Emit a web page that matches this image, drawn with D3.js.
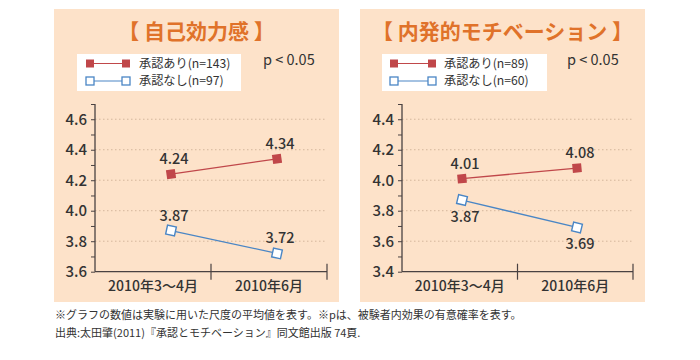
<!DOCTYPE html>
<html><head><meta charset="utf-8">
<script src="https://cdn.jsdelivr.net/npm/d3@7"></script>
<style>
body{margin:0;background:#fff;}
svg{display:block;font-family:"Noto Sans CJK JP","Noto Sans",sans-serif;}
</style></head>
<body><svg id="c" width="700" height="360"></svg>
<script>
// ---- data ----
const categories = ["2010年3～4月", "2010年6月"];
const panelTitles = ["【 自己効力感 】", "【 内発的モチベーション 】"];
const seriesNames = ["承認あり", "承認なし"];
const leftCounts = [143, 97];
const rightCounts = [89, 60];
const leftApproved = [4.24, 4.34];
const leftNotApproved = [3.87, 3.72];
const rightApproved = [4.01, 4.08];
const rightNotApproved = [3.87, 3.69];
const leftTicks = [3.6, 3.8, 4.0, 4.2, 4.4, 4.6];
const rightTicks = [3.4, 3.6, 3.8, 4.0, 4.2, 4.4];
const leftDomain = [3.6, 4.7];
const rightDomain = [3.4, 4.5];
const pText = "p < 0.05";
const notes = [
  "※グラフの数値は実験に用いた尺度の平均値を表す。※pは、被験者内効果の有意確率を表す。",
  "出典:太田肇(2011)『承認とモチベーション』同文館出版 74頁."
];

// ---- style ----
const RED = "#c0474a", BLUE = "#4a86c5", AXIS = "#4a4242", BG = "#fde2c9", TITLE = "#e0722a";
const svg = d3.select("#c");

const panels = [
  {x0: 54, x1: 339, ax0: 95, ax1: 327, pts: [171, 277], domain: leftDomain, ticks: leftTicks,
   title: panelTitles[0], counts: leftCounts, series: [leftApproved, leftNotApproved],
   labelDy: [-10, -10], legend: {x: 77, w: 164, mx0: 90, mx1: 126, tx: 139}, px: 263},
  {x0: 360, x1: 645, ax0: 402, ax1: 633, pts: [462, 577], domain: rightDomain, ticks: rightTicks,
   title: panelTitles[1], counts: rightCounts, series: [rightApproved, rightNotApproved],
   labelDy: [-10, 22], legend: {x: 382, w: 165, mx0: 394, mx1: 432, tx: 444}, px: 567}
];
const yTop = 104, yBot = 271.7;

panels.forEach(p => {
  const g = svg.append("g");
  g.append("rect").attr("x", p.x0).attr("y", 9).attr("width", p.x1 - p.x0).attr("height", 293).attr("fill", BG);
  g.append("text").attr("x", (p.x0 + p.x1) / 2).attr("y", 39).attr("text-anchor", "middle")
    .attr("font-size", 21).attr("font-weight", "bold").attr("fill", TITLE).text(p.title);

  // legend
  const L = p.legend;
  g.append("rect").attr("x", L.x).attr("y", 54).attr("width", L.w).attr("height", 37).attr("fill", "#fff");
  [0, 1].forEach(i => {
    const yy = i ? 81 : 63.5;
    const col = i ? BLUE : RED;
    g.append("line").attr("x1", L.mx0).attr("x2", L.mx1).attr("y1", yy).attr("y2", yy).attr("stroke", col).attr("stroke-width", 1.2);
    [L.mx0, L.mx1].forEach(mx => {
      g.append("rect").attr("x", mx - 4).attr("y", yy - 4).attr("width", 8).attr("height", 8)
        .attr("fill", i ? "#fff" : col).attr("stroke", col).attr("stroke-width", i ? 1.3 : 0);
    });
    g.append("text").attr("x", L.tx).attr("y", yy + 4.3).attr("font-size", 12.2).attr("fill", "#333")
      .text(`${seriesNames[i]}(n=${p.counts[i]})`);
  });
  g.append("text").attr("x", p.px).attr("y", 65).attr("font-size", 14.5).attr("fill", "#333").text(pText);

  const y = d3.scaleLinear().domain(p.domain).range([yBot, yTop]);
  const xb = d3.scaleBand().domain(categories).range([p.ax0, p.ax1]);
  const xp = d3.scalePoint().domain(categories).range(p.pts);

  // grid
  g.selectAll(null).data(p.ticks.slice(1)).enter().append("line")
    .attr("x1", p.ax0).attr("x2", p.ax1).attr("y1", d => y(d)).attr("y2", d => y(d))
    .attr("stroke", "#d3b69c").attr("stroke-width", 1).attr("stroke-dasharray", "1.5,2.5");

  // y axis with minor ticks
  const yAx = d3.axisLeft(y).tickValues(d3.range(p.domain[0], p.domain[1] + 0.001, 0.1)).tickSize(4).tickFormat("");
  const ya = g.append("g").attr("transform", `translate(${p.ax0},0)`).call(yAx);
  ya.select(".domain").remove();
  ya.selectAll("line").attr("stroke", AXIS).attr("stroke-width", 1);
  g.append("line").attr("x1", p.ax0).attr("x2", p.ax0).attr("y1", yTop).attr("y2", yBot).attr("stroke", AXIS).attr("stroke-width", 1.3);
  g.selectAll(null).data(p.ticks).enter().append("text")
    .attr("x", p.ax0 - 8).attr("y", d => y(d) + 5.5).attr("text-anchor", "end")
    .attr("font-size", 15).attr("font-weight", 500).attr("fill", "#333").text(d => d.toFixed(1));

  // x axis
  g.append("line").attr("x1", p.ax0).attr("x2", p.ax1).attr("y1", yBot).attr("y2", yBot).attr("stroke", AXIS).attr("stroke-width", 1.3);
  categories.forEach(c => {
    const xe = xb(c) + xb.bandwidth();
    g.append("line").attr("x1", xe).attr("x2", xe).attr("y1", yBot - 8).attr("y2", yBot + 8).attr("stroke", AXIS).attr("stroke-width", 1.2);
    g.append("text").attr("x", xb(c) + xb.bandwidth() / 2).attr("y", 291).attr("text-anchor", "middle")
      .attr("font-size", 14).attr("font-weight", 500).attr("fill", "#333").text(c);
  });

  // series
  p.series.forEach((vals, si) => {
    const col = si ? BLUE : RED;
    const pts = vals.map((v, i) => [xp(categories[i]), y(v)]);
    g.append("path").attr("d", d3.line()(pts)).attr("fill", "none").attr("stroke", col).attr("stroke-width", 1.3);
    const ang = Math.atan2(pts[1][1] - pts[0][1], pts[1][0] - pts[0][0]) * 180 / Math.PI;
    pts.forEach((pt, i) => {
      g.append("rect").attr("x", -4.5).attr("y", -4.5).attr("width", 9).attr("height", 9)
        .attr("transform", `translate(${pt[0]},${pt[1]}) rotate(${ang})`)
        .attr("fill", si ? "#fff" : col).attr("stroke", col).attr("stroke-width", si ? 1.4 : 0);
      g.append("text").attr("x", pt[0] + 3).attr("y", pt[1] + p.labelDy[si])
        .attr("text-anchor", "middle").attr("font-size", 14.5).attr("font-weight", 500).attr("fill", "#333").text(vals[i].toFixed(2));
    });
  });
});

svg.selectAll(null).data(notes).enter().append("text")
  .attr("x", 55).attr("y", (d, i) => 319 + i * 18).attr("font-size", 11).attr("fill", "#333").text(d => d);
</script></body></html>
